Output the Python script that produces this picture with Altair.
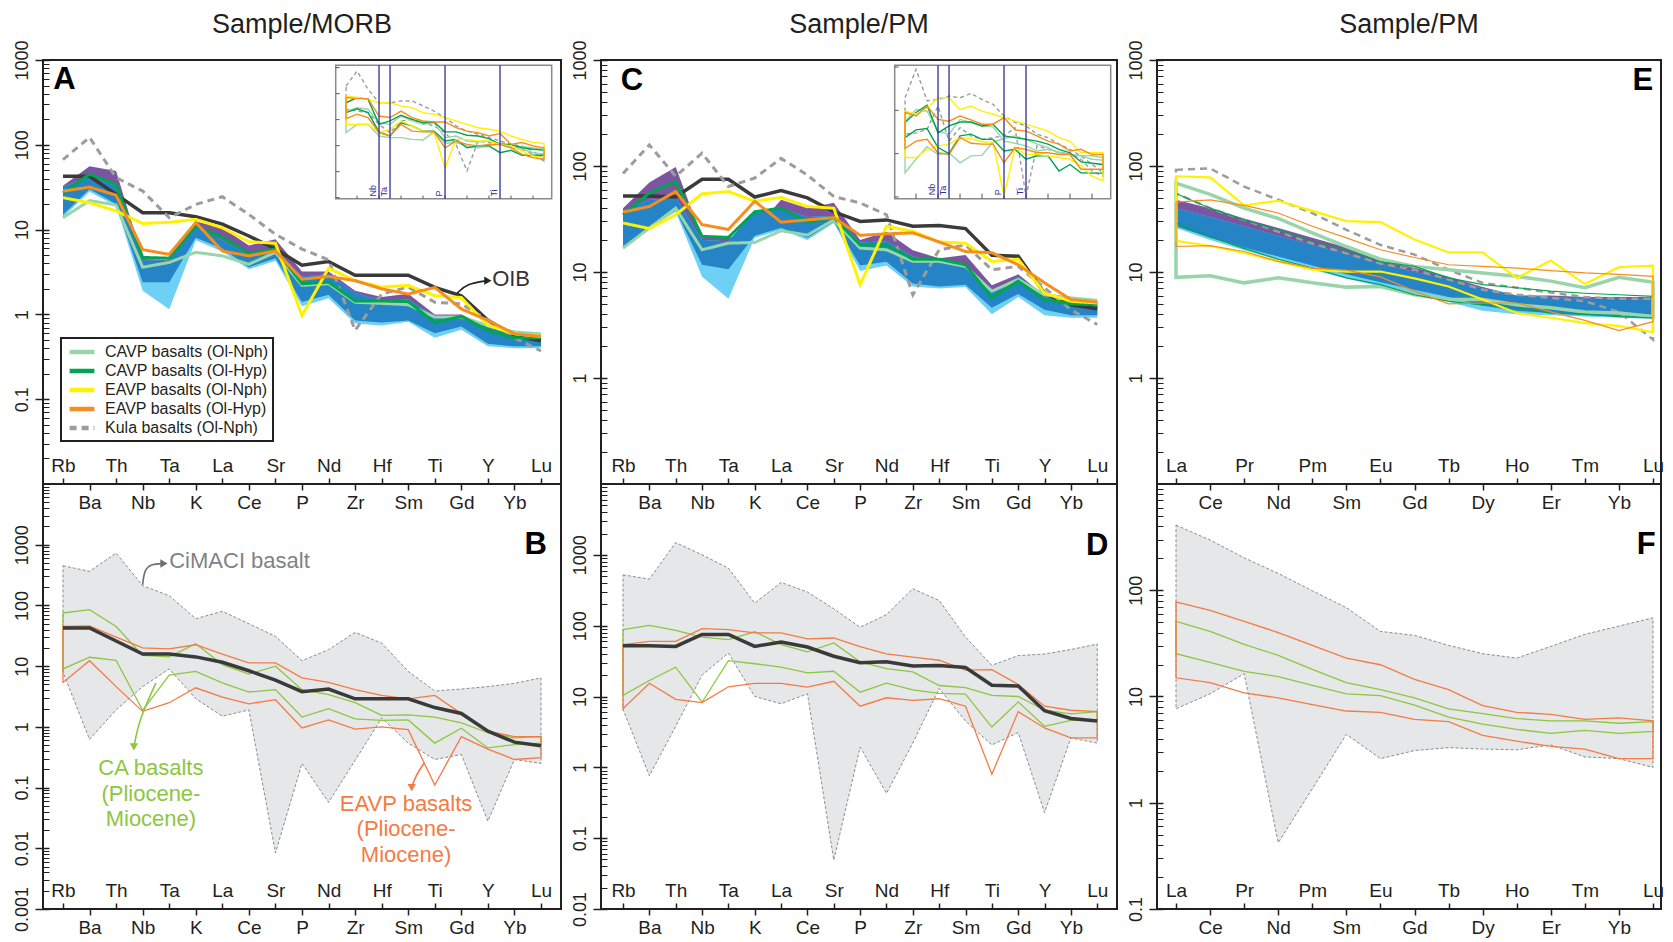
import math
import altair as alt
import pandas as pd

FONT = "Liberation Sans"
INK = "#231f20"
OIB_C = "#3a3a3a"
PURPLE = "#7b55a2"
BLUE = "#2484c6"
LBLUE = "#6fd0f6"
GRAYFILL = "#e6e7e8"
GRAYLINE = "#7f7f7f"
CA_C = "#8dc63f"
EA_C = "#f47b44"
NAVY = "#2e3192"

SPIDER = ["Rb", "Ba", "Th", "Nb", "Ta", "K", "La", "Ce", "Sr", "P", "Nd", "Zr", "Hf", "Sm", "Ti", "Gd", "Y", "Yb", "Lu"]
REE = ["La", "Ce", "Pr", "Nd", "Pm", "Sm", "Eu", "Gd", "Tb", "Dy", "Ho", "Er", "Tm", "Yb", "Lu"]
GROUPS = ["CAVP basalts (Ol-Nph)", "CAVP basalts (Ol-Hyp)", "EAVP basalts (Ol-Nph)",
          "EAVP basalts (Ol-Hyp)", "Kula basalts (Ol-Nph)"]
GROUP_COLORS = ["#98d5aa", "#00a54f", "#fff200", "#f68d1f", "#9c9c9c"]
GROUP_DASH = [[1, 0], [1, 0], [1, 0], [1, 0], [7, 5]]
TITLES = ["Sample/MORB", "Sample/PM", "Sample/PM"]

# ---------------- Panel A : Sample/MORB ----------------
A_OIB = [42.6, 42.6, 26, 15.8, 15.8, 14.2, 11.6, 8.4, 5.9, 3.8, 4.2, 2.9, 2.9, 2.9, 2.08, 1.66, 0.85, 0.56, 0.49]
A_KULA = [67, 122, 41, 28.5, 13.8, 19.8, 24.4, 15.1, 8.8, 5.9, 4.4, 0.65, 1.74, 2.1, 1.39, 1.33, 0.85, 0.53, 0.37]
A_CAVP_NPH = [13.8, 22, 19.5, 3.6, 4.1, 5.4, 4.9, 3.9, 5.4, 2.2, 2.3, 1.39, 1.35, 1.3, 0.93, 0.93, 0.74, 0.62, 0.59]
A_CAVP_HYP = [27, 45, 34, 4.7, 4.6, 11, 8.1, 5.2, 5.9, 2.3, 2.4, 1.44, 1.44, 1.42, 0.8, 0.95, 0.65, 0.53, 0.53]
A_EAVP_NPH = [23.8, 20.7, 16.6, 11.8, 12.2, 13.2, 10.5, 7.2, 6.9, 0.97, 3.5, 2.5, 2.1, 2.2, 1.66, 1.58, 0.74, 0.59, 0.55]
A_EAVP_HYP = [28.4, 31.7, 25.5, 5.8, 5.1, 12.1, 5.6, 4.9, 5.6, 2.6, 2.8, 2.5, 2.0, 1.74, 2.08, 1.16, 0.85, 0.59, 0.55]
A_PURPLE_HI = [33, 56, 49, 4.5, 4.4, 12.5, 10.5, 6.5, 7.7, 3.2, 3.2, 1.9, 1.6, 1.75, 1.0, 1.0, 0.72, 0.6, 0.6]
A_BLUE_HI = [32, 42, 33, 4.3, 4.3, 11.5, 7.5, 5.0, 5.8, 2.8, 3.0, 1.8, 1.45, 1.5, 0.95, 0.95, 0.7, 0.6, 0.6]
A_BLUE_LO = [15, 30, 20, 2.4, 2.4, 8, 6.0, 3.6, 4.6, 1.4, 1.7, 0.85, 0.8, 0.85, 0.6, 0.72, 0.45, 0.42, 0.42]
A_LBLUE_LO = [14, 28, 19, 1.9, 1.15, 7.5, 5.5, 3.4, 4.3, 1.25, 1.55, 0.78, 0.74, 0.82, 0.53, 0.66, 0.42, 0.4, 0.4]

# inset of panel A (log10 units)
IA_KULA_HI = [2.29, 2.87, 2.17, 1.65, 1.65, 1.72, 1.72, 1.53, 1.33, 1.08, 0.76, 0.56, 0.44, 0.31, 0.18, 0.05, -0.01, -0.21, -0.53]
IA_KULA_LO = [1.40, 1.33, 1.27, 0.82, 0.50, 0.95, 1.01, 0.88, 0.76, 0.50, 0.05, -0.97, 0.18, 0.12, 0.05, -0.01, -0.14, -0.33, -0.59]
IA_CAVP_NPH_HI = [1.33, 1.46, 1.40, 0.88, 0.82, 1.14, 0.95, 0.82, 0.88, 0.31, 0.37, 0.18, 0.14, 0.18, 0.09, 0.01, -0.04, -0.08, -0.14]
IA_CAVP_NPH_LO = [0.50, 0.82, 0.82, 0.37, 0.31, 0.31, 0.24, 0.22, 0.53, 0.09, 0.12, -0.01, -0.08, -0.01, 0.05, -0.08, -0.14, -0.27, -0.33]
IA_CAVP_HYP_HI = [1.65, 1.85, 1.78, 0.82, 0.95, 1.17, 1.01, 0.88, 0.91, 0.53, 0.53, 0.40, 0.37, 0.27, 0.05, 0.05, -0.08, -0.14, -0.17]
IA_CAVP_HYP_LO = [1.27, 1.42, 1.27, 0.53, 0.37, 0.88, 0.76, 0.56, 0.56, 0.18, 0.24, -0.08, -0.01, -0.01, -0.27, -0.18, -0.37, -0.37, -0.37]
IA_EAVP_NPH_HI = [1.91, 1.85, 1.78, 1.65, 1.65, 1.53, 1.46, 1.27, 1.21, 1.08, 0.95, 0.82, 0.69, 0.63, 0.56, 0.37, 0.24, 0.12, 0.09]
IA_EAVP_NPH_LO = [0.82, 0.82, 0.82, 0.50, 0.63, 0.95, 0.76, 0.56, 0.50, -0.85, 0.24, 0.24, 0.18, 0.18, 0.05, -0.01, -0.21, -0.40, -0.46]
IA_EAVP_HYP_HI = [1.85, 1.81, 1.81, 1.14, 1.08, 1.33, 1.08, 0.95, 0.91, 0.91, 0.69, 0.56, 0.50, 0.37, 0.47, 0.05, 0.12, -0.01, -0.08]
IA_EAVP_HYP_LO = [1.04, 1.21, 1.08, 0.50, 0.37, 0.82, 0.56, 0.53, 0.53, -0.08, 0.18, 0.05, -0.01, 0.05, 0.05, -0.08, -0.33, -0.46, -0.53]
IA_MARK_IDX = [3, 4, 9, 14]
IA_MARK_LAB = ["Nb", "Ta", "P", "Ti"]

# ---------------- Panel B : Sample/MORB (CiMACI) ----------------
B_GRAY_HI = [451, 364, 730, 211, 145, 60.5, 80, 50, 31, 12.3, 18.7, 36, 24, 8.2, 3.9, 4.2, 4.6, 5.2, 6.4]
B_GRAY_LO = [7.9, 0.62, 1.9, 4.6, 9.0, 2.9, 1.5, 1.9, 0.0084, 0.25, 0.057, 0.28, 1.4, 0.54, 0.29, 0.35, 0.028, 0.29, 0.25]
B_CA_HI = [75, 85, 45, 15, 14.2, 23.4, 10.6, 7.4, 10, 4.1, 3.4, 2.5, 1.55, 1.58, 1.45, 1.16, 0.8, 0.66, 0.69]
B_CA_LO = [9.0, 14, 12.5, 1.87, 7.1, 8.2, 5.3, 3.75, 4.1, 1.45, 2.0, 1.35, 1.28, 1.3, 0.54, 0.95, 0.45, 0.51, 0.54]
B_EA_HI = [45, 46, 30, 20, 19.2, 22.5, 15.8, 11.3, 11.3, 6.4, 5.4, 4.1, 3.3, 2.9, 3.3, 1.65, 0.85, 0.69, 0.69]
B_EA_LO = [5.4, 12.3, 4.6, 1.8, 2.5, 4.4, 3.1, 2.4, 2.8, 0.96, 1.3, 0.92, 1.0, 0.9, 0.11, 0.69, 0.43, 0.29, 0.31]

# ---------------- Panel C : Sample/PM ----------------
C_OIB = [52, 52, 51, 75, 75, 51, 58.8, 50, 37, 30, 31, 27, 27.5, 25.7, 14.4, 14.1, 6.3, 4.9, 4.5]
C_KULA = [85, 158, 80, 132, 64, 77, 118, 82, 51.6, 44.8, 34.7, 6.1, 16.2, 18, 10.5, 11.3, 7.1, 4.4, 3.2]
C_CAVP_NPH = [16.8, 26, 40, 16.2, 18.7, 19, 24.5, 22.3, 31, 16.8, 16.2, 12.6, 12.6, 11.3, 6.6, 8.5, 6.1, 5.7, 5.4]
C_CAVP_HYP = [34.7, 55.5, 71.5, 21.7, 21.2, 37, 40, 29.5, 32.6, 18, 18, 13.2, 13.2, 11.7, 5.7, 8.2, 5.5, 5.0, 4.9]
C_EAVP_NPH = [29, 25.7, 34.7, 54.7, 57.4, 46.5, 50.5, 41.5, 40, 7.6, 27, 24.2, 19.2, 18.7, 12.6, 13.2, 6.3, 5.3, 5.1]
C_EAVP_HYP = [36.7, 41.5, 57.4, 28, 25.2, 46.5, 29.5, 31, 32.6, 22.2, 22.9, 23.4, 19.2, 15.6, 15.2, 11.7, 7.9, 5.5, 5.2]
C_PURPLE_HI = [40, 70, 98, 21, 21, 25, 48, 40, 45, 20, 24, 16, 13.5, 14.5, 7.5, 9.5, 6, 5.3, 5.3]
C_BLUE_HI = [38, 48, 50, 20, 19.5, 38, 40, 33, 34, 19, 19.5, 14, 12.5, 11.7, 6.5, 9, 5.8, 5.2, 5.2]
C_BLUE_LO = [17, 27, 38, 11.7, 10.6, 22, 26, 21, 30, 11.5, 12.5, 7.8, 7.3, 7.6, 4.6, 6.2, 4.4, 3.9, 3.9]
C_LBLUE_LO = [16.5, 26, 37, 9.0, 5.6, 21, 25, 20, 29, 10.2, 11.5, 7.3, 7.0, 7.2, 4.0, 5.8, 3.9, 3.7, 3.7]

# inset of panel C (log10 units)
IC_KULA_HI = [2.29, 2.95, 2.22, 2.25, 2.33, 2.29, 2.39, 2.25, 2.14, 1.87, 1.72, 1.64, 1.45, 1.37, 1.22, 1.10, 0.95, 0.75, 0.56]
IC_KULA_LO = [1.45, 1.48, 1.56, 2.10, 1.29, 1.60, 1.41, 1.33, 1.37, 1.41, 1.60, 0.02, 1.18, 1.10, 1.02, 1.02, 0.87, 0.60, 0.48]
IC_CAVP_NPH_HI = [1.75, 2.02, 1.98, 1.52, 1.45, 1.79, 1.72, 1.64, 1.62, 1.29, 1.24, 1.18, 1.06, 1.10, 1.04, 0.98, 0.96, 0.95, 0.91]
IC_CAVP_NPH_LO = [0.56, 0.87, 1.16, 0.98, 1.02, 0.79, 0.95, 0.96, 1.27, 1.35, 1.41, 1.33, 1.22, 1.14, 1.02, 0.98, 0.95, 0.87, 0.85]
IC_CAVP_HYP_HI = [1.72, 1.95, 2.12, 1.48, 1.64, 1.73, 1.73, 1.64, 1.68, 1.41, 1.37, 1.33, 1.29, 1.22, 1.10, 1.02, 0.81, 0.78, 0.75]
IC_CAVP_HYP_LO = [1.37, 1.55, 1.58, 1.14, 1.00, 1.41, 1.45, 1.33, 1.33, 1.06, 1.10, 0.87, 0.95, 0.95, 0.60, 0.75, 0.56, 0.55, 0.55]
IC_EAVP_NPH_HI = [1.98, 1.91, 2.06, 2.29, 2.29, 2.02, 2.10, 1.98, 1.91, 1.83, 1.75, 1.68, 1.60, 1.52, 1.37, 1.29, 1.02, 1.02, 1.02]
IC_EAVP_NPH_LO = [0.91, 0.91, 1.10, 1.18, 1.22, 1.37, 1.35, 1.27, 1.27, 0.02, 1.14, 0.98, 0.98, 0.95, 0.91, 0.87, 0.72, 0.48, 0.37]
IC_EAVP_HYP_HI = [1.95, 1.87, 2.10, 1.79, 1.75, 1.87, 1.78, 1.68, 1.68, 1.83, 1.55, 1.52, 1.41, 1.29, 1.22, 1.06, 1.10, 0.98, 0.98]
IC_EAVP_HYP_LO = [1.12, 1.29, 1.33, 1.02, 0.98, 1.37, 1.24, 1.22, 1.22, 0.79, 1.14, 1.10, 1.02, 1.02, 0.98, 0.98, 0.64, 0.64, 0.64]
IC_MARK_IDX = [3, 4, 9, 11]
IC_MARK_LAB = ["Nb", "Ta", "P", "Ti"]

# ---------------- Panel D : Sample/PM (CiMACI) ----------------
D_GRAY_HI = [522, 454, 1490, 1000, 649, 208, 408, 298, 173, 95, 143, 332, 227, 69, 27.6, 37.8, 39.8, 46, 55]
D_GRAY_LO = [6.6, 0.76, 3.8, 20, 41, 10, 7.9, 10.9, 0.049, 1.93, 0.43, 2.2, 13, 4.5, 2.07, 3.1, 0.23, 2.6, 2.2]
D_CA_HI = [88, 101, 86, 69, 63.5, 82, 54, 42.6, 57, 30.8, 24.8, 22.2, 14.3, 13.3, 10.4, 10, 6.4, 5.7, 6.1]
D_CA_LO = [10.4, 16.8, 25.9, 8.3, 32, 29, 26, 21.5, 22.7, 11.5, 15.4, 12.4, 11.1, 10.8, 3.7, 8.4, 3.8, 4.6, 4.6]
D_EA_HI = [54, 60, 60, 91, 88, 79, 79, 65, 67, 50.6, 40, 36, 32.5, 23.5, 24, 14.8, 7.3, 6.4, 6.1]
D_EA_LO = [6.7, 15.4, 9.1, 8.2, 13.7, 15.3, 15.3, 13.6, 16.4, 7.3, 9.6, 8.8, 9.3, 7.3, 0.8, 6.1, 3.6, 2.6, 2.6]

# ---------------- Panel E : REE Sample/PM ----------------
E_KULA_HI = [92, 95, 64, 48, 36, 25, 18, 14.6, 10.5, 7.9, 7.1, 6.4, 5.8, 5.6, 5.6]
E_KULA_LO = [55, 40, 31, 24, 18.6, 15, 12, 10.5, 8.5, 6.8, 6.1, 5.7, 5.3, 4.2, 2.3]
E_CAVP_NPH_HI = [69, 54, 40, 32, 23.4, 17.4, 13.2, 11.3, 10.5, 9.8, 9.1, 8.2, 7.1, 8.9, 8.0]
E_CAVP_NPH_LO = [8.9, 9.2, 7.9, 8.8, 7.9, 7.2, 7.3, 6.1, 5.5, 5.5, 4.9, 4.6, 4.2, 4.1, 3.8]
E_CAVP_HYP_HI = [55, 40, 31, 25, 19.5, 16.2, 12.5, 11.3, 8.8, 7.6, 7.1, 6.6, 6.3, 6.1, 5.9]
E_CAVP_HYP_LO = [29, 21.5, 16.7, 13.2, 10.9, 8.8, 7.6, 6.1, 5.3, 4.9, 4.6, 4.1, 4.0, 3.8, 3.7]
E_EAVP_NPH_HI = [80, 78, 42.5, 47, 37.7, 30.2, 29.5, 20.3, 15.3, 15.3, 8.8, 12.8, 7.7, 11.1, 11.5]
E_EAVP_NPH_LO = [19.7, 17.6, 15.1, 12.6, 10.5, 10.1, 10.1, 8.7, 7.3, 5.5, 4.1, 3.7, 3.3, 3.1, 2.7]
E_EAVP_HYP_HI = [45.6, 48, 42.5, 36, 27, 21, 16.2, 13.7, 11.7, 11.3, 10.9, 10.3, 9.8, 9.5, 9.1]
E_EAVP_HYP_LO = [17.4, 17.7, 15.6, 12.6, 10.9, 10.4, 9.0, 6.6, 5.0, 5.1, 5.1, 4.2, 3.5, 2.8, 3.4]
E_PURPLE_HI = [48, 40, 32, 26, 21, 17, 13.5, 11, 9, 7.2, 6.0, 6.0, 5.8, 5.8, 5.8]
E_BLUE_HI = [40, 33, 27, 22, 18, 15, 12, 10, 8.5, 7.0, 6.0, 5.8, 5.6, 5.6, 5.5]
E_BLUE_LO = [27, 21, 17, 14, 11.5, 9.5, 8, 6.8, 5.8, 4.8, 4.3, 4.1, 3.9, 3.8, 3.7]
E_LBLUE_LO = [26, 20, 16, 13, 10.5, 8.7, 7.3, 6.2, 5.2, 4.3, 4.0, 3.9, 3.8, 3.7, 3.6]

# ---------------- Panel F : REE Sample/PM (CiMACI) ----------------
F_GRAY_HI = [410, 297, 202, 144, 99, 68.6, 41, 37.6, 30.3, 25.3, 23, 29.6, 38.5, 46, 55]
F_GRAY_LO = [7.65, 10.6, 16.4, 0.42, 1.35, 4.4, 2.6, 3.1, 3.3, 3.2, 3.15, 3.5, 2.7, 2.6, 2.15]
F_CA_HI = [51, 41, 31, 24.4, 18, 13.5, 11.6, 9.7, 7.65, 6.9, 6.2, 5.9, 5.9, 5.6, 5.8]
F_CA_LO = [25.3, 21, 17.2, 15.4, 12.7, 10.6, 10.2, 8.3, 6.4, 5.5, 4.9, 4.5, 4.8, 4.5, 4.7]
F_EA_HI = [77.6, 64.7, 51, 40, 30.3, 23, 19.9, 14.5, 11.6, 8.2, 7.1, 6.8, 6.1, 6.3, 5.9]
F_EA_LO = [15, 13.5, 10.8, 9.7, 8.4, 7.3, 7.1, 6.1, 5.8, 4.3, 3.8, 3.4, 3.2, 2.6, 2.6]

# annotations (x in element index units, y in data units)
LETTERS = {"A": (0.05, 580), "B": (17.8, 1000), "C": (0.34, 636), "D": (18.0, 1340), "E": (13.7, 636), "F": (13.8, 265)}
OIB_ARROW_X = [14.84, 15.2, 16.0]
OIB_ARROW_Y = [1.77, 2.3, 2.5]
CIM_ARROW_X = [3.0, 3.06, 3.3, 3.8]
CIM_ARROW_Y = [219, 380, 480, 490]
CA_ARROW_X = [3.5, 2.86, 2.67]
CA_ARROW_Y = [5.3, 1.3, 0.47]
EA_ARROW_X = [13.6, 13.26, 13.13]
EA_ARROW_Y = [0.255, 0.15, 0.1]

# ---------------- layout ----------------
W1, W2, W3 = 518, 516, 504
HT, HB = 424, 425
XDOM1 = [-0.753, 18.753]
XDOM2 = [-0.836, 18.75]
XDOM3 = [-0.558, 14.235]


def xs(dom):
    return alt.Scale(domain=dom, nice=False, zero=False)


def ys(dom):
    return alt.Scale(type="log", domain=dom, nice=False)


def minor_ticks(lo, hi):
    return [round(m * 10.0 ** k, 6) for k in range(lo, hi) for m in range(2, 10)]


def x_axis(elements, parity, orient, offset=0):
    vals = [i for i in range(len(elements)) if i % 2 == parity]
    arr = "[" + ",".join("'%s'" % e for e in elements) + "]"
    return alt.Axis(values=vals, labelExpr=arr + "[datum.value]", orient=orient, offset=offset,
                    tickSize=6, tickWidth=1.5, tickColor=INK, labelPadding=3, labelFontSize=19,
                    labelFont=FONT, labelColor=INK, domain=False, grid=False, title=None,
                    labelOverlap=False, labelFlush=False)


def y_major(vals):
    return alt.Axis(values=vals, format="~g", orient="left", offset=-6, tickSize=14, tickWidth=1.5,
                    tickColor=INK, labelAngle=-90, labelAlign="center", labelBaseline="bottom",
                    labelPadding=4, labelFontSize=18, labelFont=FONT, labelColor=INK, domain=False,
                    grid=False, title=None, labelOverlap=False, labelFlush=False)


def y_minor(vals):
    return alt.Axis(values=vals, orient="left", offset=-6, tickSize=6, tickWidth=1, tickColor=INK,
                    labels=False, domain=False, grid=False, title=None)


def env_df(lo, hi):
    return pd.DataFrame({"idx": list(range(len(lo))), "lo": lo, "hi": hi})


def ln_df(v):
    return pd.DataFrame({"idx": list(range(len(v))), "v": v})


def fields(purple_hi, blue_hi, blue_lo, lblue_lo, xsc, ysc, xaxis, ymaj):
    df = pd.DataFrame({"idx": list(range(len(purple_hi))), "p_hi": purple_hi, "b_hi": blue_hi,
                       "b_lo": blue_lo, "lb_lo": lblue_lo})
    purple = alt.Chart(df).mark_area(color=PURPLE).encode(
        x=alt.X("idx:Q", scale=xsc, axis=xaxis), y=alt.Y("p_hi:Q", scale=ysc, axis=ymaj), y2="b_lo:Q")
    lblue = alt.Chart(df).mark_area(color=LBLUE).encode(
        x=alt.X("idx:Q", scale=xsc, axis=None), y=alt.Y("b_hi:Q", scale=ysc, axis=None), y2="lb_lo:Q")
    blue = alt.Chart(df).mark_area(color=BLUE).encode(
        x=alt.X("idx:Q", scale=xsc, axis=None), y=alt.Y("b_hi:Q", scale=ysc, axis=None), y2="b_lo:Q")
    return [purple, lblue, blue]


def oib_line(v, xsc, ysc):
    return alt.Chart(ln_df(v)).mark_line(color=OIB_C, strokeWidth=3.5).encode(
        x=alt.X("idx:Q", scale=xsc, axis=None), y=alt.Y("v:Q", scale=ysc, axis=None))


LEG = alt.Legend(title=None, orient="none", legendX=18, legendY=278, symbolType="M-1.6,0H1.6",
                 symbolStrokeWidth=4.5, symbolSize=240, symbolOffset=7, labelFontSize=16, labelFont=FONT,
                 labelColor=INK, labelLimit=400, strokeColor=INK, fillColor="white", padding=4,
                 rowPadding=0, labelOffset=13)


def group_lines(series, xsc, ysc, yaxis):
    rows = []
    order = [4, 0, 1, 2, 3]
    for gi in order:
        for i, v in enumerate(series[gi]):
            rows.append({"idx": i, "v": v, "group": GROUPS[gi]})
    df = pd.DataFrame(rows)
    return alt.Chart(df).mark_line(strokeWidth=3).encode(
        x=alt.X("idx:Q", scale=xsc, axis=None),
        y=alt.Y("v:Q", scale=ysc, axis=yaxis),
        color=alt.Color("group:N", scale=alt.Scale(domain=GROUPS, range=GROUP_COLORS), legend=LEG),
        strokeDash=alt.StrokeDash("group:N", scale=alt.Scale(domain=GROUPS, range=GROUP_DASH), legend=LEG),
    )


def letter(key, xsc, ysc):
    x, y = LETTERS[key]
    df = pd.DataFrame({"idx": [x], "v": [y], "t": [key]})
    return alt.Chart(df).mark_text(font=FONT, fontSize=31, fontWeight="bold", color="black",
                                   align="center", baseline="middle").encode(
        x=alt.X("idx:Q", scale=xsc, axis=None), y=alt.Y("v:Q", scale=ysc, axis=None), text="t:N")


def label(text, x, y, xsc, ysc, color, align="left"):
    df = pd.DataFrame({"idx": [x], "v": [y], "t": [text]})
    return alt.Chart(df).mark_text(font=FONT, fontSize=22, color=color, align=align, baseline="middle",
                                   lineBreak="\n", lineHeight=25.5).encode(
        x=alt.X("idx:Q", scale=xsc, axis=None), y=alt.Y("v:Q", scale=ysc, axis=None), text="t:N")


def arrow(xv, yv, xsc, ysc, color, shape):
    df = pd.DataFrame({"idx": xv, "v": yv, "o": list(range(len(xv)))})
    body = alt.Chart(df).mark_line(color=color, strokeWidth=1.6, interpolate="basis").encode(
        x=alt.X("idx:Q", scale=xsc, axis=None), y=alt.Y("v:Q", scale=ysc, axis=None), order="o:Q")
    head = alt.Chart(df.tail(1)).mark_point(shape=shape, filled=True, size=70, color=color, opacity=1).encode(
        x=alt.X("idx:Q", scale=xsc, axis=None), y=alt.Y("v:Q", scale=ysc, axis=None))
    return [body, head]


def envelope(lo, hi, xsc, ysc, color, width, dash=None, xaxis=None, yaxis=None):
    kw = dict(fillOpacity=0, stroke=color, strokeWidth=width)
    if dash:
        kw["strokeDash"] = dash
    return alt.Chart(env_df(lo, hi)).mark_area(**kw).encode(
        x=alt.X("idx:Q", scale=xsc, axis=xaxis), y=alt.Y("hi:Q", scale=ysc, axis=yaxis), y2="lo:Q")


def inset(pairs, mark_idx, mark_lab, xdom, xrng, ydom, yrng):
    xsc = alt.Scale(domain=xdom, range=xrng, nice=False, zero=False)
    ysc = alt.Scale(domain=ydom, range=yrng, nice=False, zero=False)
    X = lambda f: alt.X(f, scale=xsc, axis=None)
    Y = lambda f: alt.Y(f, scale=ysc, axis=None)
    frame = alt.Chart(pd.DataFrame({"x0": [xdom[0]], "x1": [xdom[1]], "y0": [ydom[0]], "y1": [ydom[1]]})).mark_rect(
        fill="white", stroke="#8a8a8a", strokeWidth=1.5).encode(x=X("x0:Q"), x2="x1:Q", y=Y("y0:Q"), y2="y1:Q")
    layers = [frame]
    tick_idx = list(range(1, 18, 2))
    bt = pd.DataFrame({"idx": tick_idx, "y0": [ydom[0]] * len(tick_idx), "y1": [ydom[0] + 0.12] * len(tick_idx)})
    layers.append(alt.Chart(bt).mark_rule(color="#555", strokeWidth=1).encode(x=X("idx:Q"), y=Y("y0:Q"), y2="y1:Q"))
    decs = list(range(math.ceil(ydom[0]), math.floor(ydom[1]) + 1))
    lt = pd.DataFrame({"x0": [xdom[0]] * len(decs), "x1": [xdom[0] + 0.35] * len(decs), "v": decs})
    layers.append(alt.Chart(lt).mark_rule(color="#555", strokeWidth=1).encode(x=X("x0:Q"), x2="x1:Q", y=Y("v:Q")))
    colors = [GROUP_COLORS[4], GROUP_COLORS[0], GROUP_COLORS[1], GROUP_COLORS[2], GROUP_COLORS[3]]
    for (lo, hi), c, d in zip(pairs, colors, [[4, 3], None, None, None, None]):
        kw = dict(fillOpacity=0, stroke=c, strokeWidth=1.4)
        if d:
            kw["strokeDash"] = d
        layers.append(alt.Chart(env_df(lo, hi)).mark_area(**kw).encode(x=X("idx:Q"), y=Y("hi:Q"), y2="lo:Q"))
    mk = pd.DataFrame({"idx": mark_idx, "t": mark_lab, "y0": [ydom[0]] * 4, "y1": [ydom[1]] * 4,
                       "ty": [ydom[0] + 0.08] * 4})
    layers.append(alt.Chart(mk).mark_rule(color=NAVY, strokeWidth=1.3).encode(x=X("idx:Q"), y=Y("y0:Q"), y2="y1:Q"))
    layers.append(alt.Chart(mk).mark_text(angle=270, align="left", baseline="bottom", fontSize=9, font=FONT,
                                          color=NAVY, dy=-1).encode(x=X("idx:Q"), y=Y("ty:Q"), text="t:N"))
    return alt.layer(*layers)


def col_title(t):
    return alt.TitleParams(text=t, anchor="middle", frame="group", fontSize=27, font=FONT,
                           fontWeight="normal", color=INK, offset=1)


# ---------------- Panel A ----------------
xA, yA = xs(XDOM1), ys([0.01, 1000])
A_main = alt.layer(
    *fields(A_PURPLE_HI, A_BLUE_HI, A_BLUE_LO, A_LBLUE_LO, xA, yA, x_axis(SPIDER, 1, "bottom"),
            y_major([0.1, 1, 10, 100, 1000])),
    oib_line(A_OIB, xA, yA),
    group_lines([A_CAVP_NPH, A_CAVP_HYP, A_EAVP_NPH, A_EAVP_HYP, A_KULA], xA, yA, y_minor(minor_ticks(-2, 3))),
    letter("A", xA, yA),
    label("OIB", 16.16, 2.65, xA, yA, "#333333"),
    *arrow(OIB_ARROW_X, OIB_ARROW_Y, xA, yA, "#222222", "triangle-right"),
).resolve_axis(x="independent", y="independent")
A_in = inset([(IA_KULA_LO, IA_KULA_HI), (IA_CAVP_NPH_LO, IA_CAVP_NPH_HI), (IA_CAVP_HYP_LO, IA_CAVP_HYP_HI),
              (IA_EAVP_NPH_LO, IA_EAVP_NPH_HI), (IA_EAVP_HYP_LO, IA_EAVP_HYP_HI)],
             IA_MARK_IDX, IA_MARK_LAB, [-0.94, 18.7], [292.7, 508.7], [-2.04, 3.09], [138.7, 5.3])
A_panel = alt.layer(A_main, A_in).resolve_scale(x="independent", y="independent").properties(
    width=W1, height=HT, title=col_title(TITLES[0]))

# ---------------- Panel B ----------------
xB, yB = xs(XDOM1), ys([0.001, 10000])
B_gray = alt.Chart(env_df(B_GRAY_LO, B_GRAY_HI)).mark_area(
    color=GRAYFILL, stroke=GRAYLINE, strokeWidth=0.9, strokeDash=[3, 2]).encode(
    x=alt.X("idx:Q", scale=xB, axis=x_axis(SPIDER, 0, "top")),
    y=alt.Y("hi:Q", scale=yB, axis=y_major([0.001, 0.01, 0.1, 1, 10, 100, 1000])), y2="lo:Q")
B_main = alt.layer(
    B_gray,
    envelope(B_CA_LO, B_CA_HI, xB, yB, CA_C, 1.3, xaxis=x_axis(SPIDER, 1, "bottom"),
             yaxis=y_minor(minor_ticks(-3, 4))),
    envelope(B_EA_LO, B_EA_HI, xB, yB, EA_C, 1.3, xaxis=x_axis(SPIDER, 0, "top", offset=-HB)),
    oib_line(A_OIB, xB, yB),
    letter("B", xB, yB),
    label("CiMACI basalt", 4.0, 530, xB, yB, "#808285"),
    *arrow(CIM_ARROW_X, CIM_ARROW_Y, xB, yB, "#6d6e71", "triangle-right"),
    label("CA basalts\n(Pliocene-\nMiocene)", 3.31, 0.207, xB, yB, CA_C, align="center"),
    *arrow(CA_ARROW_X, CA_ARROW_Y, xB, yB, CA_C, "triangle-down"),
    label("EAVP basalts\n(Pliocene-\nMiocene)", 12.92, 0.0546, xB, yB, EA_C, align="center"),
    *arrow(EA_ARROW_X, EA_ARROW_Y, xB, yB, EA_C, "triangle-down"),
).resolve_axis(x="independent", y="independent").properties(width=W1, height=HB)

# ---------------- Panel C ----------------
xC, yC = xs(XDOM2), ys([0.1, 1000])
C_main = alt.layer(
    *fields(C_PURPLE_HI, C_BLUE_HI, C_BLUE_LO, C_LBLUE_LO, xC, yC, x_axis(SPIDER, 1, "bottom"),
            y_major([1, 10, 100, 1000])),
    oib_line(C_OIB, xC, yC),
    group_lines([C_CAVP_NPH, C_CAVP_HYP, C_EAVP_NPH, C_EAVP_HYP, C_KULA], xC, yC, y_minor(minor_ticks(-1, 3))),
    letter("C", xC, yC),
).resolve_axis(x="independent", y="independent")
C_in = inset([(IC_KULA_LO, IC_KULA_HI), (IC_CAVP_NPH_LO, IC_CAVP_NPH_HI), (IC_CAVP_HYP_LO, IC_CAVP_HYP_HI),
              (IC_EAVP_NPH_LO, IC_EAVP_NPH_HI), (IC_EAVP_HYP_LO, IC_EAVP_HYP_HI)],
             IC_MARK_IDX, IC_MARK_LAB, [-0.94, 18.7], [293.7, 509.7], [-0.04, 3.04], [138.7, 5.3])
C_panel = alt.layer(C_main, C_in).resolve_scale(x="independent", y="independent").properties(
    width=W2, height=HT, title=col_title(TITLES[1]))

# ---------------- Panel D ----------------
xD, yD = xs(XDOM2), ys([0.01, 10000])
D_gray = alt.Chart(env_df(D_GRAY_LO, D_GRAY_HI)).mark_area(
    color=GRAYFILL, stroke=GRAYLINE, strokeWidth=0.9, strokeDash=[3, 2]).encode(
    x=alt.X("idx:Q", scale=xD, axis=x_axis(SPIDER, 0, "top")),
    y=alt.Y("hi:Q", scale=yD, axis=y_major([0.01, 0.1, 1, 10, 100, 1000])), y2="lo:Q")
D_panel = alt.layer(
    D_gray,
    envelope(D_CA_LO, D_CA_HI, xD, yD, CA_C, 1.3, xaxis=x_axis(SPIDER, 1, "bottom"),
             yaxis=y_minor(minor_ticks(-2, 4))),
    envelope(D_EA_LO, D_EA_HI, xD, yD, EA_C, 1.3, xaxis=x_axis(SPIDER, 0, "top", offset=-HB)),
    oib_line(C_OIB, xD, yD),
    letter("D", xD, yD),
).resolve_axis(x="independent", y="independent").properties(width=W2, height=HB)

# ---------------- Panel E ----------------
xE, yE = xs(XDOM3), ys([0.1, 1000])
E_panel = alt.layer(
    *fields(E_PURPLE_HI, E_BLUE_HI, E_BLUE_LO, E_LBLUE_LO, xE, yE, x_axis(REE, 1, "bottom"),
            y_major([1, 10, 100, 1000])),
    envelope(E_KULA_LO, E_KULA_HI, xE, yE, GROUP_COLORS[4], 2.5, dash=[7, 5], yaxis=y_minor(minor_ticks(-1, 3))),
    envelope(E_CAVP_NPH_LO, E_CAVP_NPH_HI, xE, yE, GROUP_COLORS[0], 3.5),
    envelope(E_CAVP_HYP_LO, E_CAVP_HYP_HI, xE, yE, GROUP_COLORS[1], 1.2),
    envelope(E_EAVP_NPH_LO, E_EAVP_NPH_HI, xE, yE, GROUP_COLORS[2], 2.2),
    envelope(E_EAVP_HYP_LO, E_EAVP_HYP_HI, xE, yE, GROUP_COLORS[3], 1.2),
    letter("E", xE, yE),
).resolve_axis(x="independent", y="independent").properties(width=W3, height=HT, title=col_title(TITLES[2]))

# ---------------- Panel F ----------------
xF, yF = xs(XDOM3), ys([0.1, 1000])
F_gray = alt.Chart(env_df(F_GRAY_LO, F_GRAY_HI)).mark_area(
    color=GRAYFILL, stroke=GRAYLINE, strokeWidth=0.9, strokeDash=[3, 2]).encode(
    x=alt.X("idx:Q", scale=xF, axis=x_axis(REE, 0, "top")),
    y=alt.Y("hi:Q", scale=yF, axis=y_major([0.1, 1, 10, 100])), y2="lo:Q")
F_panel = alt.layer(
    F_gray,
    envelope(F_CA_LO, F_CA_HI, xF, yF, CA_C, 1.3, xaxis=x_axis(REE, 1, "bottom"),
             yaxis=y_minor(minor_ticks(-1, 3))),
    envelope(F_EA_LO, F_EA_HI, xF, yF, EA_C, 1.3, xaxis=x_axis(REE, 0, "top", offset=-HB)),
    letter("F", xF, yF),
).resolve_axis(x="independent", y="independent").properties(width=W3, height=HB)

col1 = alt.vconcat(A_panel, B_main, spacing=0, bounds="flush")
col2 = alt.vconcat(C_panel, D_panel, spacing=0, bounds="flush")
col3 = alt.vconcat(E_panel, F_panel, spacing=0, bounds="flush")

chart = alt.hconcat(col1, col2, col3, spacing=8).properties(
    padding={"left": 4, "top": 1, "right": 0, "bottom": 0}
).configure_view(stroke=INK, strokeWidth=2).configure_legend(strokeWidth=2)

chart.save("out.html", embed_options={"renderer": "svg", "actions": False})
